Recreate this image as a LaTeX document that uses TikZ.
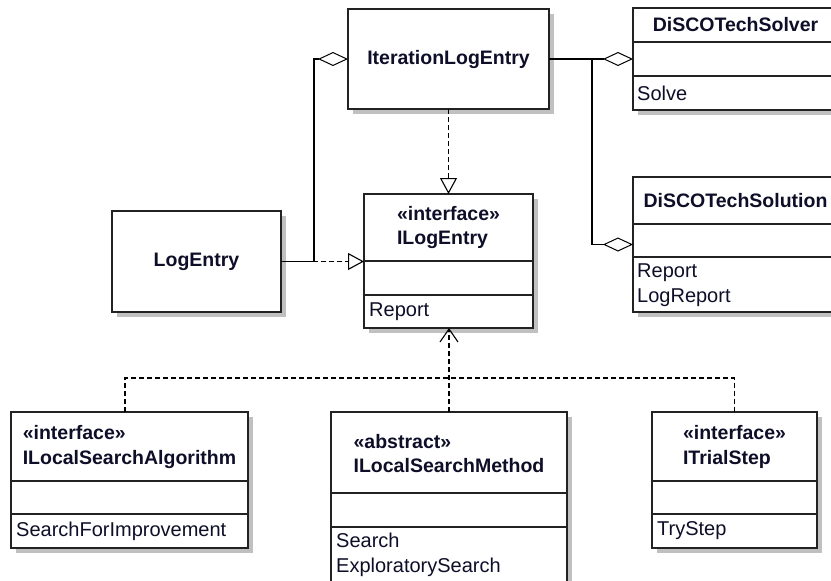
\documentclass[tikz,border=0pt]{standalone}
\usepackage{fontspec}
\setmainfont{Liberation Sans}
\usetikzlibrary{arrows.meta}
\definecolor{inkc}{RGB}{14,14,40}
\definecolor{shadowc}{RGB}{192,192,192}
\definecolor{framec}{RGB}{34,34,34}
\tikzset{
  classframe/.style={draw=framec, line width=1.4pt, fill=white, inner sep=0pt, outer sep=0pt},
  divider/.style={draw=framec, line width=1.3pt},
  nametext/.style={font=\fontsize{19.5}{24.5}\selectfont\bfseries, text=inkc, inner sep=0pt, align=left},
  optext/.style={font=\fontsize{20}{25}\selectfont, text=inkc, inner sep=0pt, anchor=west, align=left},
  conn/.style={line width=1.3pt, draw=black},
  dep/.style={conn, dash pattern=on 5pt off 3pt},
  realize/.style={dep, -{Triangle[open, length=16pt, width=17pt, line width=1.1pt]}},
  aggr/.style={conn, {Diamond[open, length=30pt, width=14pt, line width=1pt]}-},
  usedep/.style={dep, -{Straight Barb[length=13pt, width=18pt, line width=1.1pt]}},
}
% class frame with its drop shadow: name, left, top, right, bottom (pixel units, y downwards)
\newcommand\umlclass[5]{%
  \pgfmathsetmacro\bw{#4-#2}\pgfmathsetmacro\bh{#5-#3}%
  \pgfmathsetmacro\bx{(#2+#4)/2}\pgfmathsetmacro\by{(#3+#5)/2}%
  \fill[shadowc] ({#2+5},{#3+5}) rectangle ({#4+5},{#5+5});
  \node[classframe, minimum width=\bw pt, minimum height=\bh pt] (#1) at (\bx,\by) {};
}
% horizontal compartment divider of a class at height #2
\newcommand\compline[2]{\draw[divider] (#1.west |- 0,#2) -- (#1.east |- 0,#2);}
\begin{document}
\begin{tikzpicture}[x=1pt, y=-1pt]
  \useasboundingbox (0,0) rectangle (831,581);
  \clip (0,0) rectangle (831,581);

  % classes
  \umlclass{ite}{348}{9}{549}{109}
  \umlclass{le}{112}{211}{281}{312}
  \umlclass{ile}{364}{194}{533}{328}
  \compline{ile}{261}\compline{ile}{295}
  \umlclass{dsolver}{633}{8}{838}{110}
  \compline{dsolver}{42}\compline{dsolver}{76}
  \umlclass{dsoln}{633}{177}{838}{312}
  \compline{dsoln}{224}\compline{dsoln}{257}
  \umlclass{ilsa}{11}{412}{248}{548}
  \compline{ilsa}{481}\compline{ilsa}{514}
  \umlclass{ilsm}{331}{412}{567}{584}
  \compline{ilsm}{493}\compline{ilsm}{527}
  \umlclass{its}{652}{412}{817}{548}
  \compline{its}{481}\compline{its}{514}

  % class names and operations
  \node[nametext] (ite-n) at (448.5,59) {IterationLogEntry};
  \node[nametext] (le-n) at (196.5,261.5) {LogEntry};
  \node[nametext] (ile-n) at (448.5,227.5) {«interface»\\ILogEntry};
  \node[optext] (ile-o) at (369,312) {Report};
  \node[nametext] (dsolver-n) at (735.5,25) {DiSCOTechSolver};
  \node[optext] (dsolver-o) at (637,93) {Solve};
  \node[nametext] (dsoln-n) at (735.5,200.5) {DiSCOTechSolution};
  \node[optext] (dsoln-o) at (637,285) {Report\\LogReport};
  \node[nametext] (ilsa-n) at (129.5,447) {«interface»\\ILocalSearchAlgorithm};
  \node[optext] (ilsa-o) at (16,531) {SearchForImprovement};
  \node[nametext] (ilsm-n) at (449,453.5) {«abstract»\\ILocalSearchMethod};
  \node[optext] (ilsm-o) at (336,555) {Search\\ExploratorySearch};
  \node[nametext] (its-n) at (734.5,447) {«interface»\\ITrialStep};
  \node[optext] (its-o) at (657,531) {TryStep};

  % junction points of the routed connectors
  \coordinate (jleft) at (314,59);
  \coordinate (jright) at (592,59);
  \coordinate (bus) at (449,378);

  % realizations of ILogEntry
  \draw[realize] (ite.south) -- (ile.north);
  \draw[realize] (le.east) -- (le.east -| ile.west);

  % aggregations
  \draw[aggr] (ite.west) -- (jleft) |- (le.east);
  \draw[aggr] (dsolver.west) -- (ite.east);
  \draw[aggr] (dsoln.west) -- (dsoln.west -| jright) -- (jright);

  % dependencies on ILogEntry
  \draw[dep] ([xshift=-4.5pt]ilsa.north) |- (bus) -| (its.north);
  \draw[usedep] (ilsm.north) -- (ilsm.north |- ile.south);
\end{tikzpicture}
\end{document}
